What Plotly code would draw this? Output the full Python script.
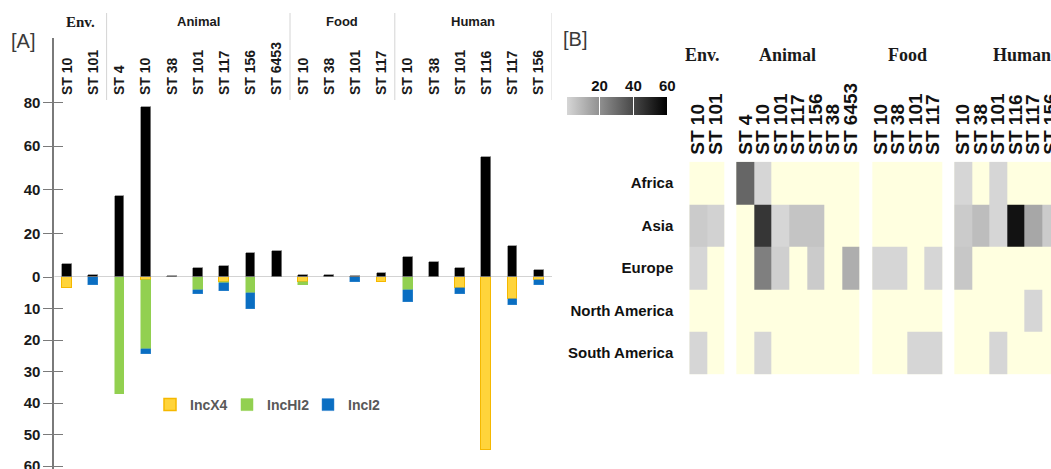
import plotly.graph_objects as go

W, H = 1051, 469

# ---------------- Panel A: sequence types by source ----------------
group_names = ["Env.", "Animal", "Food", "Human"]
st_env = ["ST 10", "ST 101"]
st_animal = ["ST 4", "ST 10", "ST 38", "ST 101", "ST 117", "ST 156", "ST 6453"]
st_food = ["ST 10", "ST 38", "ST 101", "ST 117"]
st_human = ["ST 10", "ST 38", "ST 101", "ST 116", "ST 117", "ST 156"]

# number of mcr-1 positive isolates (upper half)
isolates = [6, 1, 37, 78, 0.5, 4, 5, 11, 12, 1, 1, 0.5, 2, 9, 7, 4, 55, 14, 3]
# plasmid replicon types (lower half, stacked downwards)
inc_x4 = [3.5, 0, 0, 1, 0, 0, 1.5, 0, 0, 1.5, 0, 0, 1.5, 0, 0, 3.5, 55, 7, 1]
inc_hi2 = [0, 0, 37, 22, 0, 4, 0.5, 5, 0, 1, 0, 0, 0, 4, 0, 0, 0, 0, 0]
inc_i2 = [0, 2.5, 0, 1.5, 0, 1.5, 2.5, 5, 0, 0, 0, 1.5, 0, 4, 0, 2, 0, 2, 1.5]

# ---------------- Panel B: regions x sequence types ----------------
regions = ["Africa", "Asia", "Europe", "North America", "South America"]
st_animal_b = ["ST 4", "ST 10", "ST 101", "ST 117", "ST 156", "ST 38", "ST 6453"]
heat_env = [[0, 0], [4, 2], [1, 0], [0, 0], [1, 0]]
heat_animal = [
    [32, 1, 0, 0, 0, 0, 0],
    [0, 45, 1, 6, 6, 0, 0],
    [0, 25, 3, 0, 4, 0, 12],
    [0, 0, 0, 0, 0, 0, 0],
    [0, 1, 0, 0, 0, 0, 0],
]
heat_food = [[0, 0, 0, 0], [0, 0, 0, 0], [1, 1, 0, 1], [0, 0, 0, 0], [0, 0, 1, 1]]
heat_human = [
    [1, 0, 1, 0, 0, 0],
    [4, 8, 1, 55, 14, 4],
    [5, 0, 0, 0, 0, 0],
    [0, 0, 0, 0, 1, 0],
    [0, 0, 1, 0, 0, 0],
]
color_min, color_max = 1, 60
color_ticks = [20, 40, 60]


def fx(p):
    return p / W


def fy(p):
    return 1 - p / H


BOLD = dict(family="Liberation Sans, Arial", weight="bold")

# ---------- Panel A geometry ----------
groups_a = [st_env, st_animal, st_food, st_human]
labels_a = [s for g in groups_a for s in g]
xa = list(range(len(labels_a)))
xa_range = [-0.5, len(labels_a) - 0.5]
px_zero, px_top_line = 277, 38
up_scale, down_scale = 2.18, 3.15          # pixels per unit, upper / lower half
up_range = [0, (px_zero - px_top_line) / up_scale]
down_range = [(H - px_zero) / down_scale, 0]


def nz(vals):
    return [v if v else None for v in vals]


fig = go.Figure()
bar_w = 0.38
fig.add_bar(x=xa, y=isolates, width=bar_w, marker=dict(color="#000000", line=dict(color="#8a8a8a", width=0.8)),
            xaxis="x", yaxis="y", showlegend=False, hoverinfo="skip")
fig.add_bar(x=xa, y=nz(inc_x4), name="IncX4", width=bar_w, legend="legend",
            marker=dict(color="#FFD43B", line=dict(color="#F5B800", width=1.5)), xaxis="x", yaxis="y2")
fig.add_bar(x=xa, y=nz(inc_hi2), name="IncHI2", width=bar_w, legend="legend2",
            marker=dict(color="#92D050", line=dict(color="#92D050", width=0.5)), xaxis="x", yaxis="y2")
fig.add_bar(x=xa, y=nz(inc_i2), name="IncI2", width=bar_w, legend="legend3",
            marker=dict(color="#0A6EC2", line=dict(color="#3C8BD0", width=0.5)), xaxis="x", yaxis="y2")
# carriers for the inward half of the crossing y ticks
fig.add_scatter(x=[None], y=[None], xaxis="x", yaxis="y3", showlegend=False, hoverinfo="skip")
fig.add_scatter(x=[None], y=[None], xaxis="x", yaxis="y4", showlegend=False, hoverinfo="skip")

# ---------- Panel B geometry ----------
groups_b = [(st_env, heat_env), (st_animal_b, heat_animal), (st_food, heat_food), (st_human, heat_human)]
gap = 0.7
edges, centers, tick_b, z_bg, z_val = [0.0], [], [], [[] for _ in regions], [[] for _ in regions]
group_spans = []
for gi, (sts, rows) in enumerate(groups_b):
    if gi > 0:
        edges.append(edges[-1] + gap)
        for r in range(len(regions)):
            z_bg[r].append(None)
            z_val[r].append(None)
    start = edges[-1]
    for ci, st in enumerate(sts):
        left = edges[-1]
        edges.append(left + 1)
        centers.append(left + 0.5)
        tick_b.append(st)
        for r in range(len(regions)):
            v = rows[r][ci]
            z_bg[r].append(0)
            z_val[r].append(v if v else None)
    group_spans.append((start, edges[-1]))

col_px = 17.55
heat_left_px = 689.3
xb_range = [0, (W - heat_left_px) / col_px]

fig.add_heatmap(x=edges, y=regions, z=z_bg, colorscale=[[0, "#FFFFE0"], [1, "#FFFFE0"]], showscale=False,
                xaxis="x2", yaxis="y5", hoverinfo="skip")
fig.add_heatmap(x=edges, y=regions, z=z_val, zmin=color_min, zmax=color_max,
                colorscale=[[0, "#d6d6d6"], [1, "#000000"]], xaxis="x2", yaxis="y5",
                colorbar=dict(orientation="h", x=fx(567.3), xanchor="left", y=fy(97), yanchor="top",
                              len=100, lenmode="pixels", thickness=18, thicknessmode="pixels",
                              xpad=0, ypad=0, outlinewidth=0, tickmode="array", tickvals=color_ticks[:-1],
                              ticks="inside", ticklen=18, tickcolor="white", tickwidth=1,
                              showticklabels=False))
# axis that carries the colour-bar labels
fig.add_scatter(x=[None], y=[None], xaxis="x3", yaxis="y6", showlegend=False, hoverinfo="skip")

axis_line = "#7a7a7a"
tick_font_a = dict(size=15, color="#1a1a1a", **BOLD)
common_y = dict(showline=True, linecolor=axis_line, linewidth=1.5, ticks="outside", ticklen=9,
                tickcolor=axis_line, tickwidth=1.2, showgrid=False, zeroline=False, tickfont=tick_font_a,
                anchor="x", tickmode="array", ticklabeloverflow="allow")
inner_y = dict(showline=False, ticks="inside", ticklen=9, tickcolor=axis_line, tickwidth=1.2,
               showgrid=False, zeroline=False, showticklabels=False, anchor="x", tickmode="array")

legend_font = dict(size=14, color="#595959", **BOLD)


def legend_at(px_left):
    return dict(orientation="h", x=fx(px_left), y=fy(405), xanchor="left", yanchor="middle",
                bgcolor="rgba(0,0,0,0)", font=legend_font)


fig.update_layout(
    width=W, height=H, margin=dict(l=0, r=0, t=0, b=0, pad=0, autoexpand=False),
    paper_bgcolor="white", plot_bgcolor="white",
    barmode="stack", bargap=0,
    xaxis=dict(domain=[fx(54.2), fx(552)], range=xa_range, anchor="free", position=fy(95), side="top",
               tickmode="array", tickvals=xa, ticktext=labels_a, tickangle=-90, ticks="",
               showline=False, showgrid=False, zeroline=False,
               tickfont=dict(size=14, color="#1a1a1a", **BOLD)),
    yaxis=dict(domain=[fy(px_zero), fy(px_top_line)], range=up_range, tickvals=[0, 20, 40, 60, 80], **common_y),
    yaxis2=dict(domain=[0, fy(px_zero)], range=down_range, tickvals=[10, 20, 30, 40, 50, 60], **common_y),
    yaxis3=dict(overlaying="y", range=up_range, tickvals=[0, 20, 40, 60, 80], **inner_y),
    yaxis4=dict(overlaying="y2", range=down_range, tickvals=[10, 20, 30, 40, 50, 60], **inner_y),
    xaxis2=dict(domain=[fx(heat_left_px), 1], range=xb_range, anchor="y5", side="top",
                tickmode="array", tickvals=centers, ticktext=tick_b, tickangle=-90, ticks="",
                ticklabelstandoff=6, ticklabeloverflow="allow",
                showline=False, showgrid=False, zeroline=False,
                tickfont=dict(size=19, color="#111111", **BOLD)),
    yaxis5=dict(domain=[fy(374.3), fy(161.7)], anchor="x2", autorange="reversed", ticks="",
                ticklabelstandoff=15, showline=False, showgrid=False, zeroline=False,
                tickfont=dict(size=15, color="#111111", **BOLD)),
    xaxis3=dict(domain=[fx(567.3), fx(667.3)], range=[color_min, color_max], anchor="y6", side="top",
                tickmode="array", tickvals=color_ticks, ticks="", ticklabelstandoff=2,
                showline=False, showgrid=False, zeroline=False,
                tickfont=dict(size=15, color="#111111", **BOLD)),
    yaxis6=dict(domain=[fy(115), fy(97)], anchor="x3", visible=False),
    legend=legend_at(150),
    legend2=legend_at(227),
    legend3=legend_at(308),
    showlegend=True,
)

# zero line between the two halves of panel A
fig.add_shape(type="line", xref="x", yref="y", x0=xa_range[0], x1=xa_range[1], y0=0, y1=0,
              line=dict(color="#c4c4c4", width=1.5), layer="below")

# group separators and group headers for panel A
pos = 0
for gi, g in enumerate(groups_a):
    center = pos + (len(g) - 1) / 2
    pos += len(g)
    fig.add_shape(type="line", xref="x", yref="paper", x0=pos - 0.5, x1=pos - 0.5, y0=fy(100), y1=fy(13),
                  line=dict(color="#d4d4d4", width=1))
    if gi == 0:
        font = dict(family="Liberation Serif, Times New Roman", weight="bold", size=15, color="#1a1a1a")
    else:
        font = dict(size=13, color="#1a1a1a", **BOLD)
    fig.add_annotation(x=center, y=fy(22), xref="x", yref="paper", text=group_names[gi],
                       showarrow=False, font=font, xanchor="center", yanchor="middle")

# group headers for panel B
header_shift = [-4, -11, 1, 15]
for gi, (a, b) in enumerate(group_spans):
    fig.add_annotation(x=(a + b) / 2, y=fy(55), xref="x2", yref="paper", text=group_names[gi],
                       xshift=header_shift[gi], showarrow=False, xanchor="center", yanchor="middle",
                       font=dict(family="Liberation Serif, Times New Roman", weight="bold", size=18,
                                 color="#1a1a1a"))

# panel tags
for tag, px, py in [("[A]", 9, 41), ("[B]", 561, 39)]:
    fig.add_annotation(x=fx(px), y=fy(py), xref="paper", yref="paper", text=tag, showarrow=False,
                       xanchor="left", yanchor="middle",
                       font=dict(family="Liberation Sans, Arial", size=20, color="#3a3a3a"))

fig.write_html("out.html")
